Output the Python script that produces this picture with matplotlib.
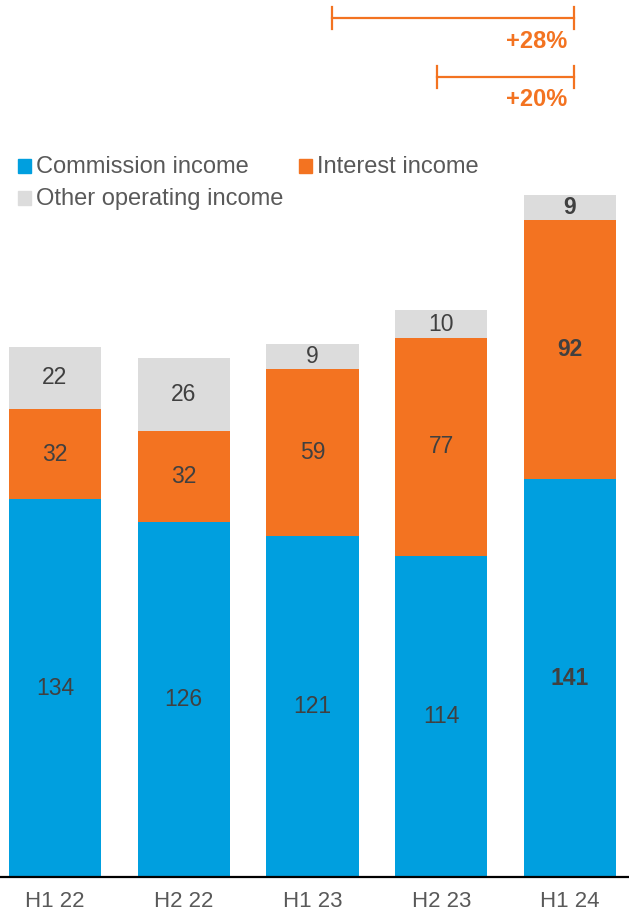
import matplotlib.pyplot as plt
import matplotlib.transforms as mtransforms
from matplotlib.patches import Rectangle

plt.rcParams['font.family'] = ['Liberation Sans', 'DejaVu Sans']

periods = ["H1 22", "H2 22", "H1 23", "H2 23", "H1 24"]
commission = [134, 126, 121, 114, 141]
interest = [32, 32, 59, 77, 92]
other = [22, 26, 9, 10, 9]

series_names = ["Commission income", "Interest income", "Other operating income"]
growth_labels = ["+28%", "+20%"]
growth_from = [2.15, 2.97]   # bracket start (bar index units)
growth_to = 4.03

BLUE = "#009FDF"
ORANGE = "#F37321"
GREY = "#DCDCDC"
TEXT = "#404040"
LABEL = "#595959"

W, H = 629, 917
fig = plt.figure(figsize=(W / 100, H / 100), dpi=100)
ax = fig.add_axes([0, 40 / H, 1, 877 / H])

x = list(range(len(periods)))
width = 0.715
bottom2 = commission
bottom3 = [c + i for c, i in zip(commission, interest)]

ax.bar(x, commission, width, color=BLUE)
ax.bar(x, interest, width, bottom=bottom2, color=ORANGE)
ax.bar(x, other, width, bottom=bottom3, color=GREY)

for i in x:
    weight = "bold" if i == len(periods) - 1 else "normal"
    for val, base in [(commission[i], 0), (interest[i], bottom2[i]), (other[i], bottom3[i])]:
        ax.text(i, base + val / 2, str(val), ha="center", va="center",
                fontsize=16.5, color=TEXT, fontweight=weight)

ax.set_xlim(-0.427, 4.458)
ax.set_ylim(0, 311)
ax.set_xticks(x)
ax.set_xticklabels(periods, fontsize=16, color=LABEL)
ax.tick_params(axis="x", length=0, pad=10)
ax.set_yticks([])
for s in ["top", "left", "right"]:
    ax.spines[s].set_visible(False)
ax.spines["bottom"].set_linewidth(1.6)
ax.spines["bottom"].set_color("black")

# growth brackets, x in bar units, y in axes fraction
tr = mtransforms.blended_transform_factory(ax.transData, ax.transAxes)
for start, label, yl, yt in zip(growth_from, growth_labels, [0.9795, 0.912], [0.953, 0.886]):
    ax.plot([start, growth_to], [yl, yl], color=ORANGE, lw=1.6, transform=tr, clip_on=False)
    for xe in (start, growth_to):
        ax.plot([xe, xe], [yl - 0.0125, yl + 0.0125], color=ORANGE, lw=1.6,
                transform=tr, clip_on=False)
    ax.text(growth_to - 0.05, yt, label, ha="right", va="center", fontsize=17,
            fontweight="bold", color=ORANGE, transform=tr)

# legend
legend_items = [(series_names[0], BLUE, 18, 166), (series_names[1], ORANGE, 299, 166),
                (series_names[2], GREY, 18, 198)]
for name, col, px, py in legend_items:
    fig.patches.append(Rectangle((px / W, 1 - (py + 6.5) / H), 13 / W, 13 / H,
                                 color=col, transform=fig.transFigure))
    fig.text((px + 18) / W, 1 - (py + 1) / H, name, ha="left", va="center",
             fontsize=17, color=LABEL)

fig.savefig("out.png", dpi=100)
